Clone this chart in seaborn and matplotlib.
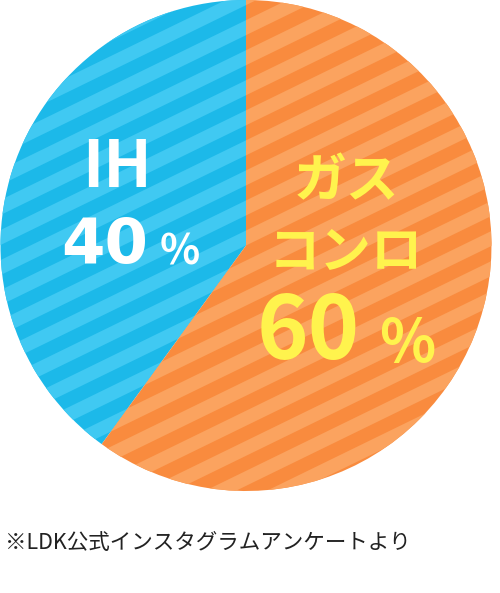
import numpy as np
import matplotlib
matplotlib.use('Agg')
import matplotlib.pyplot as plt
from matplotlib.patches import Polygon
import seaborn as sns

# ----------------- Data -----------------
labels = ['IH', 'ガス', 'コンロ']
shares = [40, 60]
pct_labels = ['40', '60']
base_colors = ['#1cb9e9', '#f98b3e']
stripe_colors = ['#40c9f2', '#fba35f']
text_colors = ['#ffffff', '#fff34d']
note = '※LDK公式インスタグラムアンケートより'

sns.set_theme(style='white')
plt.rcParams['font.family'] = ['Noto Sans CJK JP', 'DejaVu Sans']

fig = plt.figure(figsize=(5.0, 5.93), dpi=100)
ax = fig.add_axes([0.0, 0.172, 0.984, 0.828])

wedges, _ = ax.pie(shares, colors=base_colors, startangle=90, counterclock=True,
                   radius=1.0, wedgeprops=dict(linewidth=0))
ax.set_xlim(-1, 1)
ax.set_ylim(-1, 1)
ax.set_aspect('equal')
ax.axis('off')

# --- diagonal lighter stripes, clipped to each wedge ---
theta = np.deg2rad(26)
d = np.array([np.cos(theta), np.sin(theta)])   # stripe direction
n = np.array([-np.sin(theta), np.cos(theta)])  # normal
period, width = 0.11, 0.055
for w, sc in zip(wedges, stripe_colors):
    for k in np.arange(-12, 13):
        off = k * period
        p0 = n * off - d * 2
        p1 = n * off + d * 2
        poly = Polygon([p0, p1, p1 + n * width, p0 + n * width],
                       closed=True, facecolor=sc, edgecolor='none', zorder=2)
        ax.add_patch(poly)
        poly.set_clip_path(w)

# --- labels ---
bold = dict(ha='center', va='center', fontweight='bold', zorder=5)
ax.text(-0.524, 0.313, labels[0], color=text_colors[0], fontsize=46, **bold)
ax.text(-0.575, 0.0, pct_labels[0], color=text_colors[0], fontsize=45,
        family=['DejaVu Sans'], **bold)
ax.text(-0.27, -0.028, '%', color=text_colors[0], fontsize=30, **bold)

ax.text(0.41, 0.26, labels[1], color=text_colors[1], fontsize=38, **bold)
ax.text(0.407, -0.028, labels[2], color=text_colors[1], fontsize=37, **bold)
ax.text(0.252, -0.358, pct_labels[1], color=text_colors[1], fontsize=63, **bold)
ax.text(0.655, -0.406, '%', color=text_colors[1], fontsize=42, **bold)

fig.text(0.01, 1 - 543 / 593, note, ha='left', va='center', color='#222222',
         fontsize=15.5)

fig.savefig('out.png', dpi=100, facecolor='white')
